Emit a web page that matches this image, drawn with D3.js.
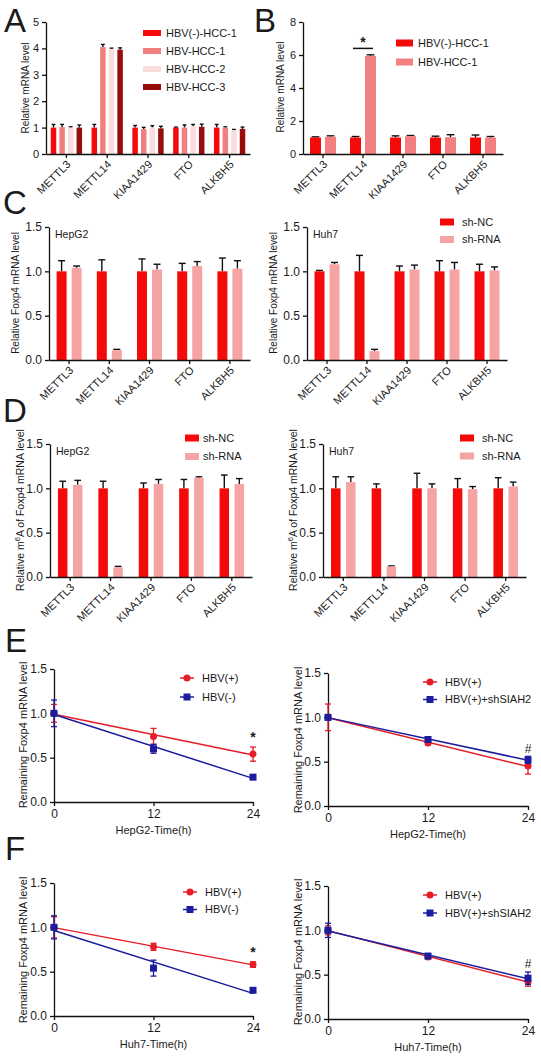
<!DOCTYPE html>
<html>
<head>
<meta charset="utf-8">
<script src="https://cdn.jsdelivr.net/npm/d3@7"></script>
<style>
  body { margin: 0; background: #fff; }
  svg { display: block; }
  text { font-family: "Liberation Sans", Arial, sans-serif; fill: #1a1a1a; }
</style>
</head>
<body>
<svg id="fig" width="541" height="1062"></svg>
<script>
// ---- data ----
var genes = ["METTL3", "METTL14", "KIAA1429", "FTO", "ALKBH5"];

// A: one row per gene, one column per sample
var seriesA = ["HBV(-)-HCC-1", "HBV-HCC-1", "HBV-HCC-2", "HBV-HCC-3"];
var valuesA = [[1.00, 1.02, 1.00, 1.00], [1.00, 4.05, 3.98, 3.95], [1.00, 0.95, 1.00, 0.97], [1.00, 1.00, 1.05, 1.03], [1.00, 1.00, 0.90, 0.95]];
var errorsA = [[0.12, 0.10, 0.03, 0.10], [0.12, 0.10, 0.03, 0.07], [0.08, 0.06, 0.07, 0.08], [0.02, 0.10, 0.07, 0.10], [0.12, 0.03, 0.03, 0.07]];

// B
var seriesB = ["HBV(-)-HCC-1", "HBV-HCC-1"];
var valuesB = [[1.00, 1.05], [1.00, 5.95], [1.00, 1.08], [1.00, 1.02], [1.00, 1.00]];
var errorsB = [[0.04, 0.05], [0.06, 0.06], [0.10, 0.04], [0.08, 0.15], [0.15, 0.06]];

// C / D: knockdown series
var seriesSh = ["sh-NC", "sh-RNA"];
var valuesC1 = [[1.00, 1.04], [1.00, 0.11], [1.00, 1.02], [1.00, 1.06], [1.00, 1.03]];
var errorsC1 = [[0.12, 0.02], [0.13, 0.01], [0.14, 0.06], [0.09, 0.05], [0.15, 0.09]];
var valuesC2 = [[1.00, 1.08], [1.00, 0.10], [1.00, 1.02], [1.00, 1.02], [1.00, 1.01]];
var errorsC2 = [[0.01, 0.02], [0.18, 0.02], [0.06, 0.05], [0.12, 0.08], [0.08, 0.04]];
var valuesD1 = [[1.00, 1.04], [1.00, 0.11], [1.00, 1.05], [1.00, 1.12], [1.00, 1.05]];
var errorsD1 = [[0.08, 0.05], [0.08, 0.01], [0.06, 0.05], [0.10, 0.01], [0.15, 0.06]];
var valuesD2 = [[1.00, 1.07], [1.00, 0.12], [1.00, 1.00], [1.00, 0.99], [1.00, 1.02]];
var errorsD2 = [[0.13, 0.06], [0.05, 0.005], [0.17, 0.05], [0.11, 0.03], [0.12, 0.05]];

// E / F: decay time course
var times = [0, 12, 24];
var hbvPosE1 = [1.00, 0.74, 0.54], hbvPosE1Err = [0.10, 0.09, 0.08];
var hbvNegE1 = [1.00, 0.60, 0.28], hbvNegE1Err = [0.15, 0.05, 0.01];
var hbvPosE2 = [1.00, 0.71, 0.45], hbvPosE2Err = [0.15, 0.02, 0.09];
var shSiahE2 = [1.00, 0.75, 0.52], shSiahE2Err = [0.03, 0.01, 0.04];
var hbvPosF1 = [1.00, 0.78, 0.58], hbvPosF1Err = [0.12, 0.04, 0.03];
var hbvNegF1 = [1.00, 0.54, 0.29], hbvNegF1Err = [0.13, 0.09, 0.02];
var hbvPosF2 = [1.00, 0.70, 0.42], hbvPosF2Err = [0.05, 0.02, 0.05];
var shSiahF2 = [1.00, 0.71, 0.46], shSiahF2Err = [0.08, 0.01, 0.07];

var ticks15 = [0, 0.5, 1.0, 1.5];

var RED = "#f50a0a", PINK = "#f5a3a3";
var LRED = "#e41e26", LBLUE = "#1c1c9e";

var svg = d3.select("#fig");

function styleAxis(g, fs) {
  g.selectAll("path, line").attr("stroke", "#111").attr("stroke-width", 1.3);
  g.selectAll("text").attr("font-size", fs).attr("fill", "#1a1a1a")
    .attr("font-family", "Liberation Sans, Arial, sans-serif");
}

function yTitle(x, y, txt, fs) {
  return svg.append("text")
    .attr("transform", "translate(" + x + "," + y + ") rotate(-90)")
    .attr("text-anchor", "middle").attr("dy", "0.35em")
    .attr("font-size", fs).text(txt);
}

function barPanel(o) {
  var g = svg.append("g");
  var x = d3.scaleBand().domain(genes).range([o.x0, o.x1]);
  var y = d3.scaleLinear().domain([0, o.ymax]).range([o.y0, o.yTop]);
  var n = o.series.length;

  var data = [];
  genes.forEach(function(gn, i) {
    o.series.forEach(function(s, j) {
      data.push({ gene: gn, j: j, v: o.values[i][j], e: o.errors[i][j] });
    });
  });
  var cx = function(d) {
    return x(d.gene) + x.bandwidth() / 2 + (d.j - (n - 1) / 2) * o.pitch;
  };

  // error bars first (upper only), then bars
  var eb = g.selectAll(".eb").data(data).enter().append("g");
  eb.append("line")
    .attr("x1", cx).attr("x2", cx)
    .attr("y1", function(d) { return y(d.v); })
    .attr("y2", function(d) { return y(d.v + d.e); })
    .attr("stroke", "#111").attr("stroke-width", 1.4);
  eb.append("line")
    .attr("x1", function(d) { return cx(d) - o.barW * 0.35; })
    .attr("x2", function(d) { return cx(d) + o.barW * 0.35; })
    .attr("y1", function(d) { return y(d.v + d.e); })
    .attr("y2", function(d) { return y(d.v + d.e); })
    .attr("stroke", "#111").attr("stroke-width", 1.4);

  g.selectAll(".bar").data(data).enter().append("rect")
    .attr("x", function(d) { return cx(d) - o.barW / 2; })
    .attr("y", function(d) { return y(d.v); })
    .attr("width", o.barW)
    .attr("height", function(d) { return o.y0 - y(d.v); })
    .attr("fill", function(d) { return o.colors[d.j]; });

  var ya = g.append("g").attr("transform", "translate(" + o.x0 + ",0)")
    .call(d3.axisLeft(y).tickValues(o.ticks).tickFormat(o.fmt).tickSize(4).tickSizeOuter(0));
  styleAxis(ya, o.tickFs);

  var xa = g.append("g").attr("transform", "translate(0," + o.y0 + ")")
    .call(d3.axisBottom(x).tickSize(4).tickSizeOuter(0).tickFormat(""));
  styleAxis(xa, 11);

  g.selectAll(".xl").data(genes).enter().append("text")
    .attr("transform", function(d) {
      return "translate(" + (x(d) + x.bandwidth() / 2 + 5) + "," + (o.y0 + 11) + ") rotate(-45)";
    })
    .attr("text-anchor", "end").attr("font-size", 11).text(function(d) { return d; });

  // legend
  if (o.legend) {
    o.series.forEach(function(s, j) {
      var ly = o.legend.y + j * o.legend.step;
      g.append("rect").attr("x", o.legend.x).attr("y", ly - o.legend.h / 2)
        .attr("width", o.legend.w).attr("height", o.legend.h).attr("fill", o.colors[j]);
      g.append("text").attr("x", o.legend.tx).attr("y", ly).attr("dy", "0.35em")
        .attr("font-size", 11).text(s);
    });
  }
  if (o.cell) {
    g.append("text").attr("x", o.x0 + 6).attr("y", o.yTop + 11)
      .attr("font-size", 10.5).text(o.cell);
  }
  return { x: x, y: y, g: g };
}

function fitLine(vals) {
  var mx = d3.mean(times), my = d3.mean(vals);
  var sxy = d3.sum(times, function(t, i) { return (t - mx) * (vals[i] - my); });
  var sxx = d3.sum(times, function(t) { return (t - mx) * (t - mx); });
  var b = sxy / sxx;
  return [[0, my - b * mx], [24, my + b * (24 - mx)]];
}

function linePanel(o) {
  var g = svg.append("g");
  var x = d3.scaleLinear().domain([0, 24]).range([o.x0, o.x1]);
  var y = d3.scaleLinear().domain([0, 1.5]).range([o.y0, o.yTop]);
  var line = d3.line().x(function(d) { return x(d[0]); }).y(function(d) { return y(d[1]); });

  o.series.forEach(function(s) {
    g.append("path").attr("d", line(fitLine(s.v))).attr("fill", "none")
      .attr("stroke", s.color).attr("stroke-width", 1.5);
  });

  var ya = g.append("g").attr("transform", "translate(" + o.x0 + ",0)")
    .call(d3.axisLeft(y).tickValues(ticks15).tickFormat(d3.format(".1f")).tickSize(4).tickSizeOuter(0));
  styleAxis(ya, 12);
  var xa = g.append("g").attr("transform", "translate(0," + o.y0 + ")")
    .call(d3.axisBottom(x).tickValues(times).tickSize(4).tickSizeOuter(0));
  styleAxis(xa, 12);

  o.series.forEach(function(s) {
    var pts = times.map(function(t, i) { return { t: t, v: s.v[i], e: s.e[i] }; });
    var eg = g.selectAll(null).data(pts).enter().append("g").attr("stroke", s.color).attr("stroke-width", 1.3);
    eg.append("line").attr("x1", function(d) { return x(d.t); }).attr("x2", function(d) { return x(d.t); })
      .attr("y1", function(d) { return y(d.v - d.e); }).attr("y2", function(d) { return y(d.v + d.e); });
    [-1, 1].forEach(function(sg) {
      eg.append("line").attr("x1", function(d) { return x(d.t) - 3; }).attr("x2", function(d) { return x(d.t) + 3; })
        .attr("y1", function(d) { return y(d.v + sg * d.e); }).attr("y2", function(d) { return y(d.v + sg * d.e); });
    });
    pts.forEach(function(d) { marker(g, x(d.t), y(d.v), s); });
  });

  o.series.forEach(function(s, j) {
    var ly = o.legend.y + j * o.legend.step;
    g.append("line").attr("x1", o.legend.x).attr("x2", o.legend.x + 14)
      .attr("y1", ly).attr("y2", ly).attr("stroke", s.color).attr("stroke-width", 1.5);
    marker(g, o.legend.x + 7, ly, s);
    g.append("text").attr("x", o.legend.x + 22).attr("y", ly).attr("dy", "0.35em")
      .attr("font-size", 11).text(s.name);
  });

  g.append("text").attr("x", (o.x0 + o.x1) / 2).attr("y", o.y0 + 32)
    .attr("text-anchor", "middle").attr("font-size", 11).text(o.xTitle);

  if (o.mark) {
    g.append("text").attr("x", x(24)).attr("y", y(o.mark.at))
      .attr("text-anchor", "middle").attr("font-size", o.mark.fs)
      .attr("font-weight", o.mark.bold ? "bold" : "normal").text(o.mark.txt);
  }
  return g;
}

function marker(g, px, py, s) {
  if (s.shape === "circle") {
    g.append("circle").attr("cx", px).attr("cy", py).attr("r", 3.5).attr("fill", s.color);
  } else {
    g.append("rect").attr("x", px - 3.5).attr("y", py - 3.5).attr("width", 7).attr("height", 7).attr("fill", s.color);
  }
}

// ---- panel A ----
barPanel({ x0: 46, x1: 250, yTop: 22, y0: 154, ymax: 5, ticks: [0, 1, 2, 3, 4, 5], fmt: d3.format("d"), tickFs: 11,
  series: seriesA, values: valuesA, errors: errorsA, colors: [RED, "#f08080", "#fbdcdc", "#980c0c"],
  barW: 5.5, pitch: 8.6, legend: { x: 143, y: 33, step: 18, w: 18, h: 6, tx: 166 } });
yTitle(25, 88, "Relative mRNA level", 10);

// ---- panel B ----
var pB = barPanel({ x0: 303, x1: 503, yTop: 22, y0: 154, ymax: 8, ticks: [0, 2, 4, 6, 8], fmt: d3.format("d"), tickFs: 11,
  series: seriesB, values: valuesB, errors: errorsB, colors: [RED, "#f28080"],
  barW: 11, pitch: 15, legend: { x: 396, y: 43, step: 19, w: 17, h: 7, tx: 418 } });
yTitle(280, 87, "Relative mRNA level", 10);
var bc = pB.x("METTL14") + pB.x.bandwidth() / 2;
pB.g.append("line").attr("x1", bc - 10).attr("x2", bc + 10)
  .attr("y1", pB.y(6.4)).attr("y2", pB.y(6.4)).attr("stroke", "#111").attr("stroke-width", 1.5);
pB.g.append("text").attr("x", bc).attr("y", pB.y(6.4) - 1).attr("text-anchor", "middle")
  .attr("font-size", 14).attr("font-weight", "bold").text("*");

// ---- panel C ----
barPanel({ x0: 49, x1: 250, yTop: 227, y0: 360, ymax: 1.5, ticks: ticks15, fmt: d3.format(".1f"), tickFs: 12,
  series: seriesSh, values: valuesC1, errors: errorsC1, colors: [RED, PINK], barW: 10, pitch: 15, cell: "HepG2" });
yTitle(15, 293, "Relative Foxp4 mRNA level", 10);
barPanel({ x0: 307, x1: 507, yTop: 227, y0: 360, ymax: 1.5, ticks: ticks15, fmt: d3.format(".1f"), tickFs: 12,
  series: seriesSh, values: valuesC2, errors: errorsC2, colors: [RED, PINK], barW: 10, pitch: 15, cell: "Huh7",
  legend: { x: 440, y: 222, step: 17.5, w: 14, h: 7, tx: 462 } });
yTitle(273, 293, "Relative Foxp4 mRNA level", 10);

// ---- panel D ----
barPanel({ x0: 50, x1: 252, yTop: 444, y0: 577, ymax: 1.5, ticks: ticks15, fmt: d3.format(".1f"), tickFs: 12,
  series: seriesSh, values: valuesD1, errors: errorsD1, colors: [RED, PINK], barW: 9.5, pitch: 15, cell: "HepG2",
  legend: { x: 185, y: 438, step: 18.5, w: 14, h: 7, tx: 203 } });
barPanel({ x0: 323, x1: 526, yTop: 444, y0: 577, ymax: 1.5, ticks: ticks15, fmt: d3.format(".1f"), tickFs: 12,
  series: seriesSh, values: valuesD2, errors: errorsD2, colors: [RED, PINK], barW: 9.5, pitch: 15, cell: "Huh7",
  legend: { x: 460, y: 438, step: 18, w: 14, h: 7, tx: 482 } });
[[20, 510], [293, 510]].forEach(function(p) {
  var t = svg.append("text")
    .attr("transform", "translate(" + p[0] + "," + p[1] + ") rotate(-90)")
    .attr("text-anchor", "middle").attr("dy", "0.35em").attr("font-size", 10.5);
  t.append("tspan").text("Relative m");
  t.append("tspan").attr("dy", -4).attr("font-size", 7.5).text("6");
  t.append("tspan").attr("dy", 4).text("A of Foxp4 mRNA level");
});

// ---- panel E ----
linePanel({ x0: 54, x1: 253, yTop: 669, y0: 802, xTitle: "HepG2-Time(h)",
  series: [{ name: "HBV(+)", v: hbvPosE1, e: hbvPosE1Err, color: LRED, shape: "circle" },
           { name: "HBV(-)", v: hbvNegE1, e: hbvNegE1Err, color: LBLUE, shape: "square" }],
  legend: { x: 180, y: 678, step: 19 }, mark: { txt: "*", at: 0.68, fs: 14, bold: true } });
yTitle(23, 735, "Remaining Foxp4 mRNA level", 11);
linePanel({ x0: 328, x1: 528, yTop: 673, y0: 806, xTitle: "HepG2-Time(h)",
  series: [{ name: "HBV(+)", v: hbvPosE2, e: hbvPosE2Err, color: LRED, shape: "circle" },
           { name: "HBV(+)+shSIAH2", v: shSiahE2, e: shSiahE2Err, color: LBLUE, shape: "square" }],
  legend: { x: 423, y: 682, step: 17.5 }, mark: { txt: "#", at: 0.6, fs: 12, bold: false } });
yTitle(298, 740, "Remaining Foxp4 mRNA level", 11);

// ---- panel F ----
linePanel({ x0: 54, x1: 253, yTop: 883, y0: 1016, xTitle: "Huh7-Time(h)",
  series: [{ name: "HBV(+)", v: hbvPosF1, e: hbvPosF1Err, color: LRED, shape: "circle" },
           { name: "HBV(-)", v: hbvNegF1, e: hbvNegF1Err, color: LBLUE, shape: "square" }],
  legend: { x: 183, y: 892, step: 17.5 }, mark: { txt: "*", at: 0.66, fs: 14, bold: true } });
yTitle(23, 950, "Remaining Foxp4 mRNA level", 11);
linePanel({ x0: 328, x1: 528, yTop: 886, y0: 1019, xTitle: "Huh7-Time(h)",
  series: [{ name: "HBV(+)", v: hbvPosF2, e: hbvPosF2Err, color: LRED, shape: "circle" },
           { name: "HBV(+)+shSIAH2", v: shSiahF2, e: shSiahF2Err, color: LBLUE, shape: "square" }],
  legend: { x: 423, y: 895, step: 18 }, mark: { txt: "#", at: 0.57, fs: 12, bold: false } });
yTitle(298, 952, "Remaining Foxp4 mRNA level", 11);

// ---- panel letters ----
[["A", 4, 32], ["B", 254, 32], ["C", 3, 214], ["D", 3, 422], ["E", 5, 652], ["F", 5, 860]].forEach(function(l) {
  svg.append("text").attr("x", l[1]).attr("y", l[2]).attr("font-size", 33).text(l[0]);
});
</script>
</body>
</html>
